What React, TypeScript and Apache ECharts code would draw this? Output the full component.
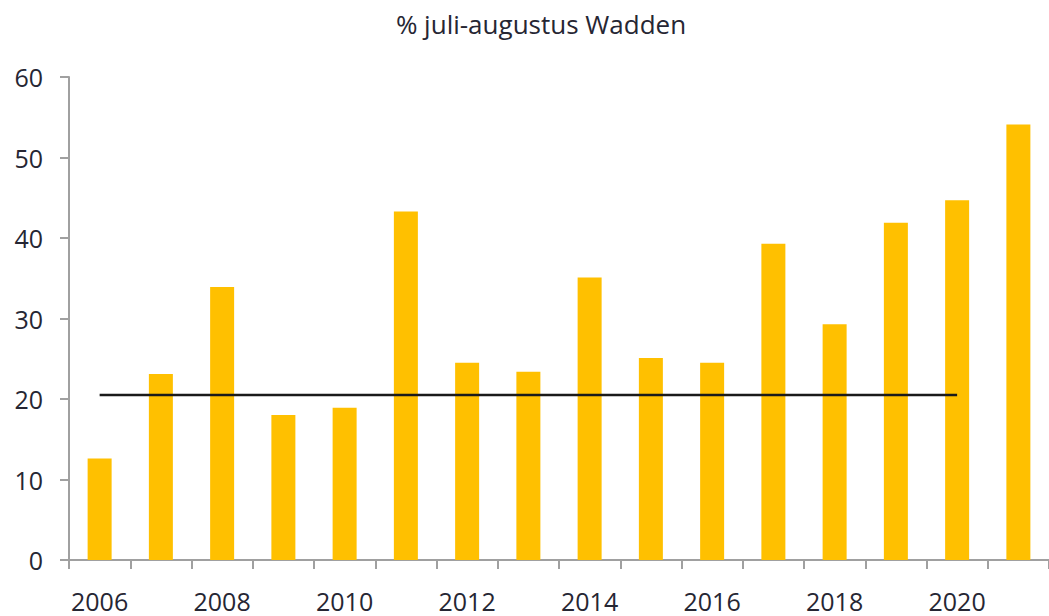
import React, { useEffect, useRef } from "react";
import * as echarts from "echarts";

const years = ["2006","2007","2008","2009","2010","2011","2012","2013","2014","2015","2016","2017","2018","2019","2020","2021"];
const percentages = [12.6, 23.1, 33.9, 18.0, 18.9, 43.3, 24.5, 23.4, 35.1, 25.1, 24.5, 39.3, 29.3, 41.9, 44.7, 54.1];
const averageLine: (number | string)[] = [20.5,20.5,20.5,20.5,20.5,20.5,20.5,20.5,20.5,20.5,20.5,20.5,20.5,20.5,20.5,"-"];
const title = "% juli-augustus Wadden";

export default function App() {
  const ref = useRef<HTMLDivElement>(null);
  useEffect(() => {
    const chart = echarts.init(ref.current!, null, { renderer: "svg" });
    const font = "'Open Sans', 'Noto Sans', sans-serif";
    chart.setOption({
      animation: false,
      backgroundColor: "#ffffff",
      title: {
        text: title,
        left: 536,
        textAlign: "center",
        top: 6,
        textStyle: { fontFamily: font, fontSize: 26, fontWeight: "normal", color: "#262633" },
      },
      grid: { left: 69, top: 77, right: -7, bottom: 56, containLabel: false },
      xAxis: {
        type: "category",
        data: years,
        boundaryGap: true,
        axisLine: { lineStyle: { color: "#a0a0a0", width: 2 } },
        axisTick: { show: true, interval: 0, length: 9, lineStyle: { color: "#a0a0a0", width: 2 } },
        axisLabel: { interval: 1, margin: 28, fontFamily: font, fontSize: 25, color: "#262633" },
        splitLine: { show: false },
      },
      yAxis: {
        type: "value",
        min: 0,
        max: 60,
        interval: 10,
        axisLine: { show: true, lineStyle: { color: "#a0a0a0", width: 2 } },
        axisTick: { show: true, length: 9, lineStyle: { color: "#a0a0a0", width: 2 } },
        axisLabel: { margin: 26, fontFamily: font, fontSize: 25, color: "#262633" },
        splitLine: { show: false },
      },
      series: [
        {
          type: "bar",
          data: percentages,
          barWidth: 24,
          itemStyle: { color: "#FFC000" },
        },
        {
          type: "line",
          data: averageLine,
          symbol: "none",
          lineStyle: { color: "#1a1a1a", width: 2.5 },
          z: 5,
        },
      ],
    });
    return () => chart.dispose();
  }, []);
  return <div ref={ref} style={{ width: 1049, height: 616, position: "absolute", left: 0, top: 0 }} />;
}
